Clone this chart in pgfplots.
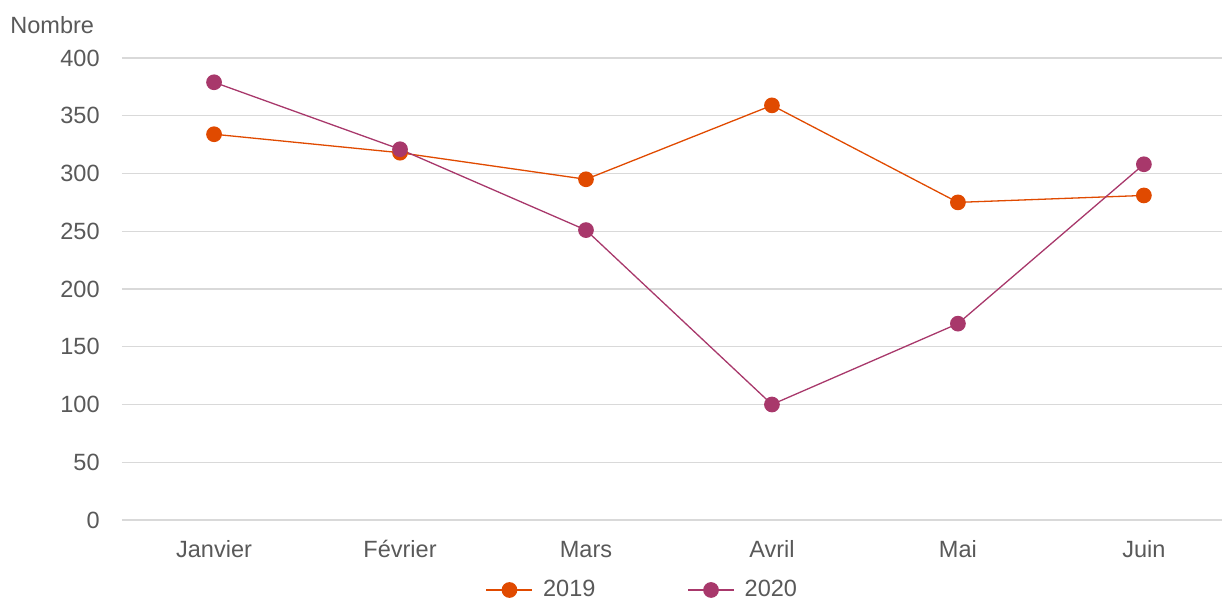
\documentclass[border=0pt]{standalone}
\usepackage{pgfplots}
\pgfplotsset{compat=1.18}
\usepackage{fontspec}
\setmainfont{Liberation Sans}
\definecolor{orng}{HTML}{E04A00}
\definecolor{purp}{HTML}{A8386B}
\definecolor{txt}{HTML}{595959}
\definecolor{grd}{HTML}{D9D9D9}
\begin{document}
\begin{tikzpicture}
\begin{axis}[
  scale only axis,
  width=550bp, height=231bp,
  xmin=-0.495, xmax=5.42,
  ymin=0, ymax=400,
  ytick={0,50,...,400},
  xtick={0,1,2,3,4,5},
  xticklabels={Janvier,Février,Mars,Avril,Mai,Juin},
  axis line style={draw=none},
  major tick length=0pt,
  ymajorgrids,
  grid style={grd, line width=0.6bp},
  font=\fontsize{11.8}{14}\selectfont,
  tick label style={txt},
  /pgf/number format/assume math mode=true,
  yticklabel style={inner sep=0pt, anchor=east, xshift=-11bp},
  xticklabel style={inner sep=0pt, anchor=base, yshift=-18.5bp},
  legend columns=2,
  legend style={draw=none, at={(0.474,-0.1515)}, anchor=center, text=txt,
    font=\fontsize{11.8}{14}\selectfont,
    /tikz/every even column/.append style={column sep=44bp}},
  legend image code/.code={\draw[mark repeat=2,mark phase=2] plot coordinates {(0bp,0bp)(11.5bp,0bp)(23bp,0bp)};
    \path (26bp,0bp);},
  clip=false,
]
\addplot[orng, line width=0.65bp, mark=*, mark size=3.6bp, mark options={fill=orng, draw=orng}]
  coordinates {(0,334) (1,318) (2,295) (3,359) (4,275) (5,281)};
\addlegendentry{2019}
\addplot[purp, line width=0.65bp, mark=*, mark size=3.6bp, mark options={fill=purp, draw=purp}]
  coordinates {(0,379) (1,321) (2,251) (3,100) (4,170) (5,308)};
\addlegendentry{2020}
\end{axis}
\node[anchor=west, text=txt, font=\fontsize{11.8}{14}\selectfont, inner sep=0pt] at (-56bp,247.5bp) {Nombre};
\pgfresetboundingbox
\path[use as bounding box] (-61bp,-40bp) rectangle (551bp,260bp);
\end{tikzpicture}
\end{document}
